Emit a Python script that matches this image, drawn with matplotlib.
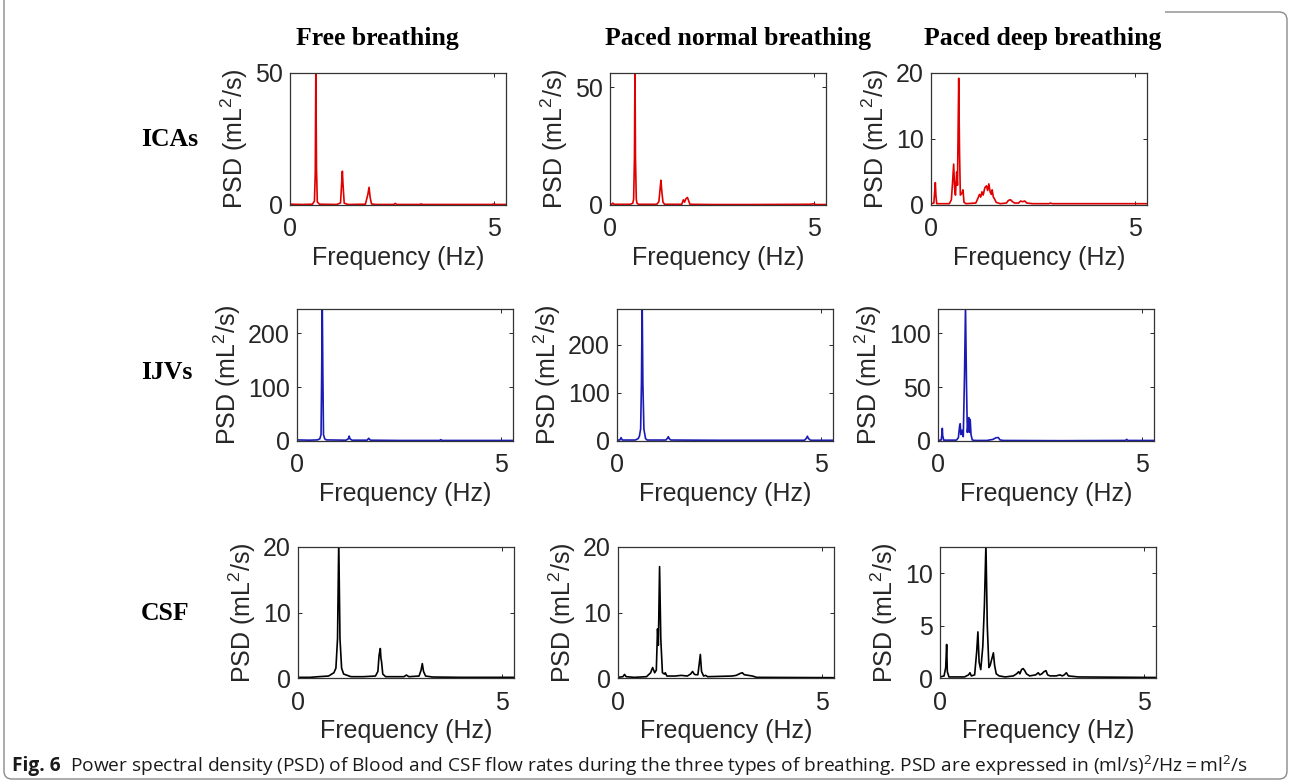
import numpy as np
import matplotlib
matplotlib.use("Agg")
import matplotlib.pyplot as plt
from matplotlib.path import Path
from matplotlib.patches import PathPatch

plt.rcParams["font.family"] = ["Liberation Sans", "DejaVu Sans"]
plt.rcParams["mathtext.default"] = "regular"

# column / row headers
col_titles = ["Free breathing", "Paced normal breathing", "Paced deep breathing"]
row_titles = ["ICAs", "IJVs", "CSF"]
row_colors = ["#e00000", "#1a1ab4", "#000000"]

# spectra: (frequency Hz, PSD mL^2/s)
ica_free = [(0, 0.3), (0.3, 0.2), (0.55, 0.3), (0.6, 1.5), (0.62, 12), (0.634, 52), (0.65, 14),
            (0.67, 1.2), (0.72, 0.3), (1.15, 0.2), (1.24, 0.8), (1.27, 9), (1.285, 12.8), (1.3, 8),
            (1.33, 0.7), (1.42, 0.2), (1.85, 0.3), (1.91, 4), (1.94, 6.7), (1.965, 3), (2.0, 0.4),
            (2.1, 0.2), (2.55, 0.2), (2.58, 0.6), (2.62, 0.2), (3.18, 0.2), (3.22, 0.4), (3.26, 0.2),
            (4.0, 0.2), (4.95, 0.2), (5.0, 0.4), (5.05, 0.2), (5.3, 0.2)]
ica_normal = [(0, 0.3), (0.05, 0.4), (0.07, 0.8), (0.1, 0.3), (0.5, 0.3), (0.56, 0.8), (0.58, 2.5),
              (0.6, 20), (0.613, 60), (0.625, 20), (0.645, 2.5), (0.66, 0.8), (0.7, 0.3), (1.15, 0.3),
              (1.2, 1.5), (1.23, 7), (1.25, 10.5), (1.27, 6), (1.3, 1.2), (1.34, 0.3), (1.76, 0.3),
              (1.8, 2.2), (1.83, 1.2), (1.86, 2.6), (1.9, 3.2), (1.93, 1.8), (1.96, 0.3), (2.5, 0.2),
              (3.5, 0.2), (4.9, 0.3), (5.0, 0.5), (5.05, 0.2), (5.3, 0.2)]
ica_deep = [(0, 0.2), (0.07, 0.3), (0.09, 2), (0.106, 3.4), (0.12, 1.5), (0.14, 0.2), (0.45, 0.2),
            (0.5, 0.8), (0.53, 3.5), (0.556, 6.2), (0.58, 2.5), (0.6, 1.5), (0.63, 5), (0.65, 3),
            (0.68, 19.2), (0.70, 8), (0.72, 1.5), (0.76, 1.8), (0.785, 2.3), (0.81, 0.4), (0.86, 0.2),
            (1.1, 0.3), (1.15, 1.0), (1.19, 1.6), (1.22, 1.2), (1.25, 2.0), (1.28, 1.5), (1.32, 2.6),
            (1.36, 2.9), (1.39, 2.2), (1.42, 3.2), (1.45, 2.0), (1.48, 1.6), (1.5, 2.3), (1.53, 1.2),
            (1.56, 0.9), (1.6, 0.4), (1.7, 0.2), (1.85, 0.3), (1.9, 0.7), (1.95, 0.8), (2.0, 0.5),
            (2.05, 0.3), (2.15, 0.3), (2.2, 0.6), (2.25, 0.5), (2.3, 0.6), (2.35, 0.3), (2.5, 0.2),
            (2.9, 0.2), (2.93, 0.3), (2.97, 0.2), (4.0, 0.2), (5.3, 0.2)]
ijv_free = [(0, 2), (0.3, 1.5), (0.5, 2), (0.56, 4), (0.59, 12), (0.605, 120), (0.62, 260),
            (0.635, 120), (0.65, 12), (0.68, 4), (0.72, 2), (1.2, 1.5), (1.26, 4), (1.28, 9),
            (1.3, 4), (1.35, 1.5), (1.72, 1.5), (1.76, 5), (1.8, 1.5), (2.5, 1), (3.5, 1),
            (3.53, 2.5), (3.56, 1), (5.0, 1), (5.3, 1)]
ijv_normal = [(0, 2), (0.07, 2), (0.1, 7), (0.13, 2), (0.45, 2), (0.52, 5), (0.55, 10), (0.58, 25),
              (0.6, 120), (0.618, 290), (0.635, 120), (0.66, 25), (0.7, 5), (0.74, 2), (1.2, 2),
              (1.24, 6), (1.26, 9), (1.28, 5), (1.32, 2), (2.5, 1.5), (4.6, 1.5), (4.65, 6),
              (4.67, 10), (4.7, 5), (4.75, 1.5), (5.3, 1.5)]
ijv_deep = [(0, 0.5), (0.08, 1), (0.1, 8), (0.106, 11.8), (0.115, 5), (0.14, 0.8), (0.45, 0.8),
            (0.5, 3), (0.53, 14), (0.545, 16), (0.56, 6), (0.59, 10), (0.62, 4), (0.65, 60),
            (0.675, 125), (0.7, 50), (0.72, 8), (0.745, 19), (0.756, 21.7), (0.77, 8), (0.79, 20),
            (0.81, 6), (0.84, 1), (0.9, 0.5), (1.2, 0.5), (1.35, 1.5), (1.42, 3), (1.48, 3.2),
            (1.52, 1), (1.6, 0.5), (3.0, 0.3), (4.6, 0.5), (4.63, 1.5), (4.66, 0.5), (5.3, 0.5)]
csf_free = [(0, 0.1), (0.3, 0.1), (0.5, 0.2), (0.75, 0.3), (0.88, 0.8), (0.93, 1.5), (0.97, 6),
            (1.0, 21), (1.03, 6), (1.07, 1.5), (1.12, 0.6), (1.3, 0.2), (1.6, 0.2), (1.9, 0.3),
            (1.96, 1), (1.99, 3.5), (2.02, 4.5), (2.035, 3), (2.05, 2.5), (2.08, 0.6), (2.15, 0.2),
            (2.6, 0.2), (2.66, 0.45), (2.72, 0.2), (2.97, 0.3), (3.02, 1.2), (3.05, 2.2), (3.08, 1),
            (3.13, 0.3), (3.3, 0.15), (4.0, 0.1), (5.3, 0.1)]
csf_normal = [(0, 0.1), (0.12, 0.2), (0.16, 0.55), (0.2, 0.2), (0.4, 0.1), (0.7, 0.2), (0.8, 0.8),
              (0.85, 1.6), (0.9, 0.8), (0.94, 1.2), (0.97, 7.5), (0.99, 5), (1.02, 17), (1.05, 6),
              (1.065, 4), (1.09, 0.8), (1.14, 0.6), (1.16, 0.8), (1.2, 0.3), (1.4, 0.3), (1.55, 0.4),
              (1.7, 0.3), (1.78, 0.6), (1.83, 1.0), (1.87, 0.6), (1.9, 0.5), (1.96, 0.5), (1.99, 2),
              (2.02, 3.6), (2.05, 1), (2.1, 0.3), (2.15, 0.4), (2.2, 0.2), (2.8, 0.3), (2.9, 0.4),
              (3.0, 0.7), (3.05, 0.8), (3.1, 0.5), (3.2, 0.4), (3.3, 0.3), (3.4, 0.1), (5.3, 0.05)]
csf_deep = [(0, 0.1), (0.1, 0.2), (0.14, 1), (0.163, 3.2), (0.18, 0.6), (0.22, 0.1), (0.6, 0.1),
            (0.7, 0.3), (0.735, 0.5), (0.77, 0.2), (0.85, 0.3), (0.9, 2.5), (0.93, 4.4), (0.96, 1.5),
            (1.0, 0.8), (1.05, 3), (1.09, 7), (1.127, 12.8), (1.16, 5), (1.2, 1), (1.23, 1.2),
            (1.27, 1.8), (1.31, 2.4), (1.34, 1.2), (1.38, 0.4), (1.45, 0.2), (1.6, 0.1), (1.8, 0.2),
            (1.88, 0.4), (1.93, 0.6), (1.96, 0.4), (2.0, 0.8), (2.04, 0.9), (2.08, 0.7), (2.12, 0.4),
            (2.2, 0.2), (2.35, 0.3), (2.41, 0.5), (2.45, 0.3), (2.5, 0.4), (2.55, 0.6), (2.6, 0.7),
            (2.64, 0.3), (2.7, 0.2), (2.85, 0.2), (2.94, 0.3), (3.0, 0.2), (3.05, 0.3), (3.1, 0.5),
            (3.15, 0.2), (3.4, 0.1), (5.3, 0.05)]

spectra = [[ica_free, ica_normal, ica_deep],
           [ijv_free, ijv_normal, ijv_deep],
           [csf_free, csf_normal, csf_deep]]
ylims = [[50, 56, 20], [245, 275, 122.5], [20, 20, 12.5]]
yticks = [[[0, 50], [0, 50], [0, 10, 20]],
          [[0, 100, 200], [0, 100, 200], [0, 50, 100]],
          [[0, 10, 20], [0, 10, 20], [0, 5, 10]]]

W, H = 1290, 784
fig = plt.figure(figsize=(W / 100, H / 100), dpi=100)

# axes boxes in pixels
row_tb = [(73, 205), (309, 441), (547, 678)]
col_left = [[290, 610, 931], [297, 617, 938], [298, 618, 940]]
ax_w = 216

for r in range(3):
    top, bot = row_tb[r]
    for c in range(3):
        left = col_left[r][c]
        ax = fig.add_axes([left / W, 1 - bot / H, ax_w / W, (bot - top) / H])
        f, p = np.array(spectra[r][c]).T
        ax.plot(f, p, color=row_colors[r], lw=1.2)
        ax.set_xlim(0, 5.3)
        ax.set_ylim(0, ylims[r][c])
        ax.set_xticks([0, 5])
        ax.set_yticks(yticks[r][c])
        ax.tick_params(direction="in", top=True, right=True, length=3, width=0.7,
                       labelsize=18, colors="#262626")
        ax.tick_params(axis="x", pad=9)
        ax.tick_params(axis="y", pad=5)
        for s in ax.spines.values():
            s.set_color("#333333")
            s.set_linewidth(0.9)
        ax.set_xlabel("Frequency (Hz)", fontsize=18, color="#262626", labelpad=3)
        ax.set_ylabel("PSD (mL$^{2}$/s)", fontsize=18, color="#262626", labelpad=4)

title_x = [377, 738, 1043]
for c in range(3):
    fig.text(title_x[c] / W, 1 - 38 / H, col_titles[c], ha="center", va="center",
             family="Liberation Serif", fontweight="bold", fontsize=18.5)

row_y = [140, 373, 613]
for r in range(3):
    fig.text(141 / W, 1 - row_y[r] / H, row_titles[r], ha="left", va="center",
             family="Liberation Serif", fontweight="bold", fontsize=18.5)

# caption
cap_y = 1 - 766 / H
t1 = fig.text(12 / W, cap_y, "Fig. 6", ha="left", va="center", fontsize=13.8,
              fontweight="bold", family="Open Sans", color="#1a1a1a")
fig.canvas.draw()
bb = t1.get_window_extent()
fig.text((bb.x1 + 9) / W, cap_y,
         "Power spectral density (PSD) of Blood and CSF flow rates during the three types of "
         "breathing. PSD are expressed in (ml/s)$^{2}$/Hz$=$ml$^{2}$/s",
         ha="left", va="center", fontsize=13.8, family="Open Sans", color="#1a1a1a")

# rounded frame (partially cropped at top)
def fy(y):
    return 1 - y / H

def fx(x):
    return x / W

rad = 8
verts = [(fx(1165), fy(12)), (fx(1287 - rad), fy(12)),
         (fx(1287), fy(12)), (fx(1287), fy(12 + rad)),
         (fx(1287), fy(779 - rad)),
         (fx(1287), fy(779)), (fx(1287 - rad), fy(779)),
         (fx(4 + rad), fy(779)),
         (fx(4), fy(779)), (fx(4), fy(779 - rad)),
         (fx(4), fy(0))]
codes = [Path.MOVETO, Path.LINETO, Path.CURVE3, Path.CURVE3, Path.LINETO,
         Path.CURVE3, Path.CURVE3, Path.LINETO, Path.CURVE3, Path.CURVE3, Path.LINETO]
fig.add_artist(PathPatch(Path(verts, codes), transform=fig.transFigure, fill=False,
                         edgecolor="#8a8a8a", lw=1.0))

fig.savefig("out.png", dpi=100)
